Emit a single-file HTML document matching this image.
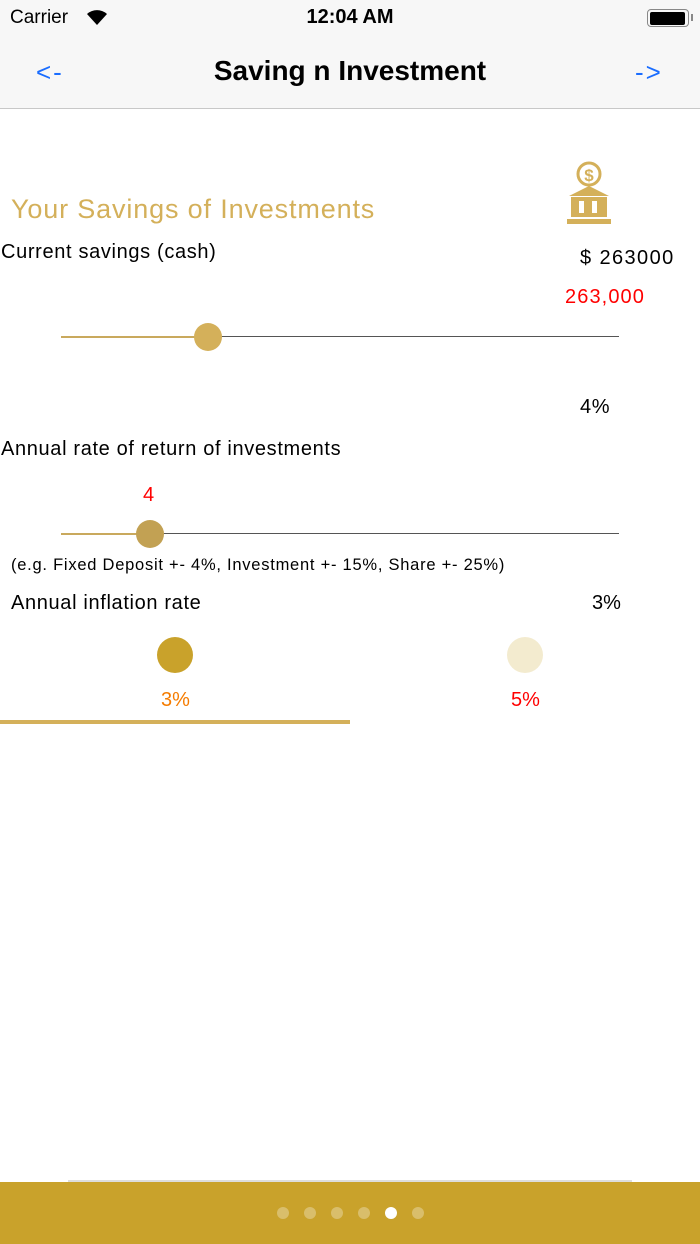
<!DOCTYPE html>
<html><head><meta charset="utf-8"><style>
body{margin:0;width:700px;height:1244px;position:relative;background:#fff;font-family:"Liberation Sans",sans-serif;overflow:hidden}
.a{position:absolute;white-space:nowrap}
.t{letter-spacing:0.65px}
</style></head><body>
<div class="a" style="left:0;top:0;width:700px;height:108px;background:#f7f7f7;border-bottom:1px solid #c8c8c8"></div>
<div class="a" style="left:10px;top:7px;font-size:19px">Carrier</div>
<svg class="a" style="left:85px;top:8px" width="24" height="18" viewBox="0 0 24 18"><path d="M12 17 L2 6 A15 15 0 0 1 22 6 Z" fill="#000"/></svg>
<div class="a" style="left:0;width:700px;text-align:center;top:6px;font-size:20px;font-weight:bold">12:04 AM</div>
<div class="a" style="left:647px;top:9px;width:40px;height:16px;border:1.5px solid #888;border-radius:4px"></div>
<div class="a" style="left:650px;top:12px;width:35px;height:13px;background:#000;border-radius:2px"></div>
<div class="a" style="left:691px;top:14px;width:2px;height:7px;background:#888"></div>
<div class="a" style="left:36px;top:57px;font-size:26px;color:#1a6dff;letter-spacing:2px">&lt;-</div>
<div class="a" style="left:635px;top:57px;font-size:26px;color:#1a6dff;letter-spacing:2px">-&gt;</div>
<div class="a" style="left:0;width:700px;text-align:center;top:55px;font-size:28px;font-weight:bold">Saving n Investment</div>

<svg class="a" style="left:565px;top:160px" width="48" height="66" viewBox="0 0 48 66"><circle cx="24" cy="14" r="11" fill="none" stroke="#d4b05a" stroke-width="3"/><text x="24" y="21" font-size="17" font-weight="bold" fill="#d4b05a" text-anchor="middle" font-family="Liberation Sans">$</text><polygon points="4,36 24,26 44,36" fill="#d4b05a"/><rect x="6" y="37" width="36" height="20" fill="#d4b05a"/><rect x="14" y="41" width="5" height="12" fill="#fff"/><rect x="27" y="41" width="5" height="12" fill="#fff"/><rect x="2" y="59" width="44" height="5" fill="#d4b05a"/></svg>

<div class="a" style="left:11px;top:194px;font-size:27px;color:#d4b05a;letter-spacing:0.85px">Your Savings of Investments</div>
<div class="a t" style="left:1px;top:241px;font-size:20px">Current savings (cash)</div>
<div class="a" style="left:580px;top:247px;font-size:20px;letter-spacing:1.4px">$ 263000</div>
<div class="a" style="left:565px;top:286px;font-size:20px;color:#f00;letter-spacing:1.1px">263,000</div>
<div class="a" style="left:61px;top:336px;width:147px;height:2px;background:#c9a95d"></div>
<div class="a" style="left:208px;top:336px;width:411px;height:1px;background:#555"></div>
<div class="a" style="left:194px;top:323px;width:28px;height:28px;border-radius:50%;background:#d4b05a"></div>
<div class="a t" style="left:580px;top:396px;font-size:20px">4%</div>
<div class="a t" style="left:1px;top:438px;font-size:20px">Annual rate of return of investments</div>
<div class="a" style="left:143px;top:484px;font-size:20px;color:#f00">4</div>
<div class="a" style="left:61px;top:533px;width:89px;height:2px;background:#c9a95d"></div>
<div class="a" style="left:150px;top:533px;width:469px;height:1px;background:#555"></div>
<div class="a" style="left:136px;top:520px;width:28px;height:28px;border-radius:50%;background:#c2a153"></div>
<div class="a" style="left:11px;top:556px;font-size:16.5px;letter-spacing:0.75px">(e.g. Fixed Deposit +- 4%, Investment +- 15%, Share +- 25%)</div>
<div class="a t" style="left:11px;top:592px;font-size:20px">Annual inflation rate</div>
<div class="a" style="left:592px;top:592px;font-size:20px">3%</div>
<div class="a" style="left:157px;top:637px;width:36px;height:36px;border-radius:50%;background:#c9a22b"></div>
<div class="a" style="left:507px;top:637px;width:36px;height:36px;border-radius:50%;background:#f3ebcf"></div>
<div class="a" style="left:161px;top:689px;font-size:20px;color:#f57c00">3%</div>
<div class="a" style="left:511px;top:689px;font-size:20px;color:#f00">5%</div>
<div class="a" style="left:0;top:720px;width:350px;height:4px;background:#d4b05a"></div>

<div class="a" style="left:68px;top:1180px;width:564px;height:2px;background:#ddd"></div>
<div class="a" style="left:0;top:1182px;width:700px;height:62px;background:#c9a22b"></div>
<div class="a" style="left:277px;top:1207px;width:12px;height:12px;border-radius:50%;background:rgba(255,255,255,.3)"></div>
<div class="a" style="left:304px;top:1207px;width:12px;height:12px;border-radius:50%;background:rgba(255,255,255,.3)"></div>
<div class="a" style="left:331px;top:1207px;width:12px;height:12px;border-radius:50%;background:rgba(255,255,255,.3)"></div>
<div class="a" style="left:358px;top:1207px;width:12px;height:12px;border-radius:50%;background:rgba(255,255,255,.3)"></div>
<div class="a" style="left:385px;top:1207px;width:12px;height:12px;border-radius:50%;background:#fff"></div>
<div class="a" style="left:412px;top:1207px;width:12px;height:12px;border-radius:50%;background:rgba(255,255,255,.3)"></div>
</body></html>
